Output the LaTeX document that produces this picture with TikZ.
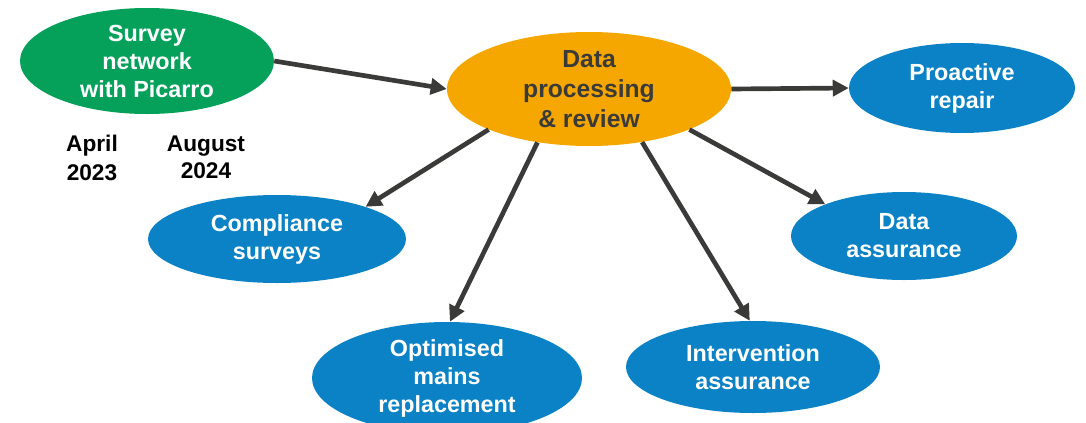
\documentclass[tikz,border=0pt]{standalone}
\usepackage{fontspec}
\setmainfont{Liberation Sans}
\usetikzlibrary{shapes.geometric,arrows.meta}
\definecolor{gruen}{HTML}{05A15A}
\definecolor{orange}{HTML}{F5A700}
\definecolor{blau}{HTML}{0A82C5}
\definecolor{dunkel}{HTML}{3A3A38}
\begin{document}
\begin{tikzpicture}[x=0.75pt,y=-0.75pt,
    blase/.style={ellipse, inner sep=0pt, align=center, text=white,
        font=\fontsize{17.5}{21}\selectfont\bfseries},
    pfeil/.style={-{Triangle[length=12pt,width=12pt]}, line width=3.5pt, draw=dunkel}]
    \useasboundingbox (0,0) rectangle (1086,422);
    % Start:
    \node[blase, fill=gruen, minimum width=190.5pt, minimum height=79.5pt] (survey) at (147,61) {Survey\\network\\with Picarro};
    \node[align=center, font=\fontsize{17}{21.5}\selectfont\bfseries] (april) at (92,158) {April\\2023};
    \node[align=center, font=\fontsize{17}{20.5}\selectfont\bfseries] (august) at (206,157) {August\\2024};
    % Mitte:
    \node[blase, fill=orange, text=dunkel, minimum width=213pt, minimum height=85.5pt,
        font=\fontsize{18.5}{22.5}\selectfont\bfseries] (dp) at (589,89) {Data\\processing\\\& review};
    % Ergebnisse:
    \node[blase, fill=blau, minimum width=169.5pt, minimum height=67.5pt] (repair) at (962,88) {Proactive\\repair};
    \node[blase, fill=blau, minimum width=193.5pt, minimum height=66pt] (compliance) at (277,239) {Compliance\\surveys};
    \node[blase, fill=blau, minimum width=169.5pt, minimum height=66pt] (assurance) at (904,236) {Data\\assurance};
    \node[blase, fill=blau, minimum width=202.5pt, minimum height=84pt] (mains) at (447,378) {Optimised\\mains\\replacement};
    \node[blase, fill=blau, minimum width=190.5pt, minimum height=69pt] (intervention) at (753,367) {Intervention\\assurance};
    % Pfeile:
    \draw[pfeil] (survey.east) -- (dp.west);
    \draw[pfeil] (dp.east) -- (repair.west);
    \draw[pfeil] (dp.202) -- (compliance.20);
    \draw[pfeil] (dp.226) -- (mains.87);
    \draw[pfeil] (dp.315) -- (intervention.94);
    \draw[pfeil] (dp.338) -- (assurance.158);
\end{tikzpicture}
\end{document}
